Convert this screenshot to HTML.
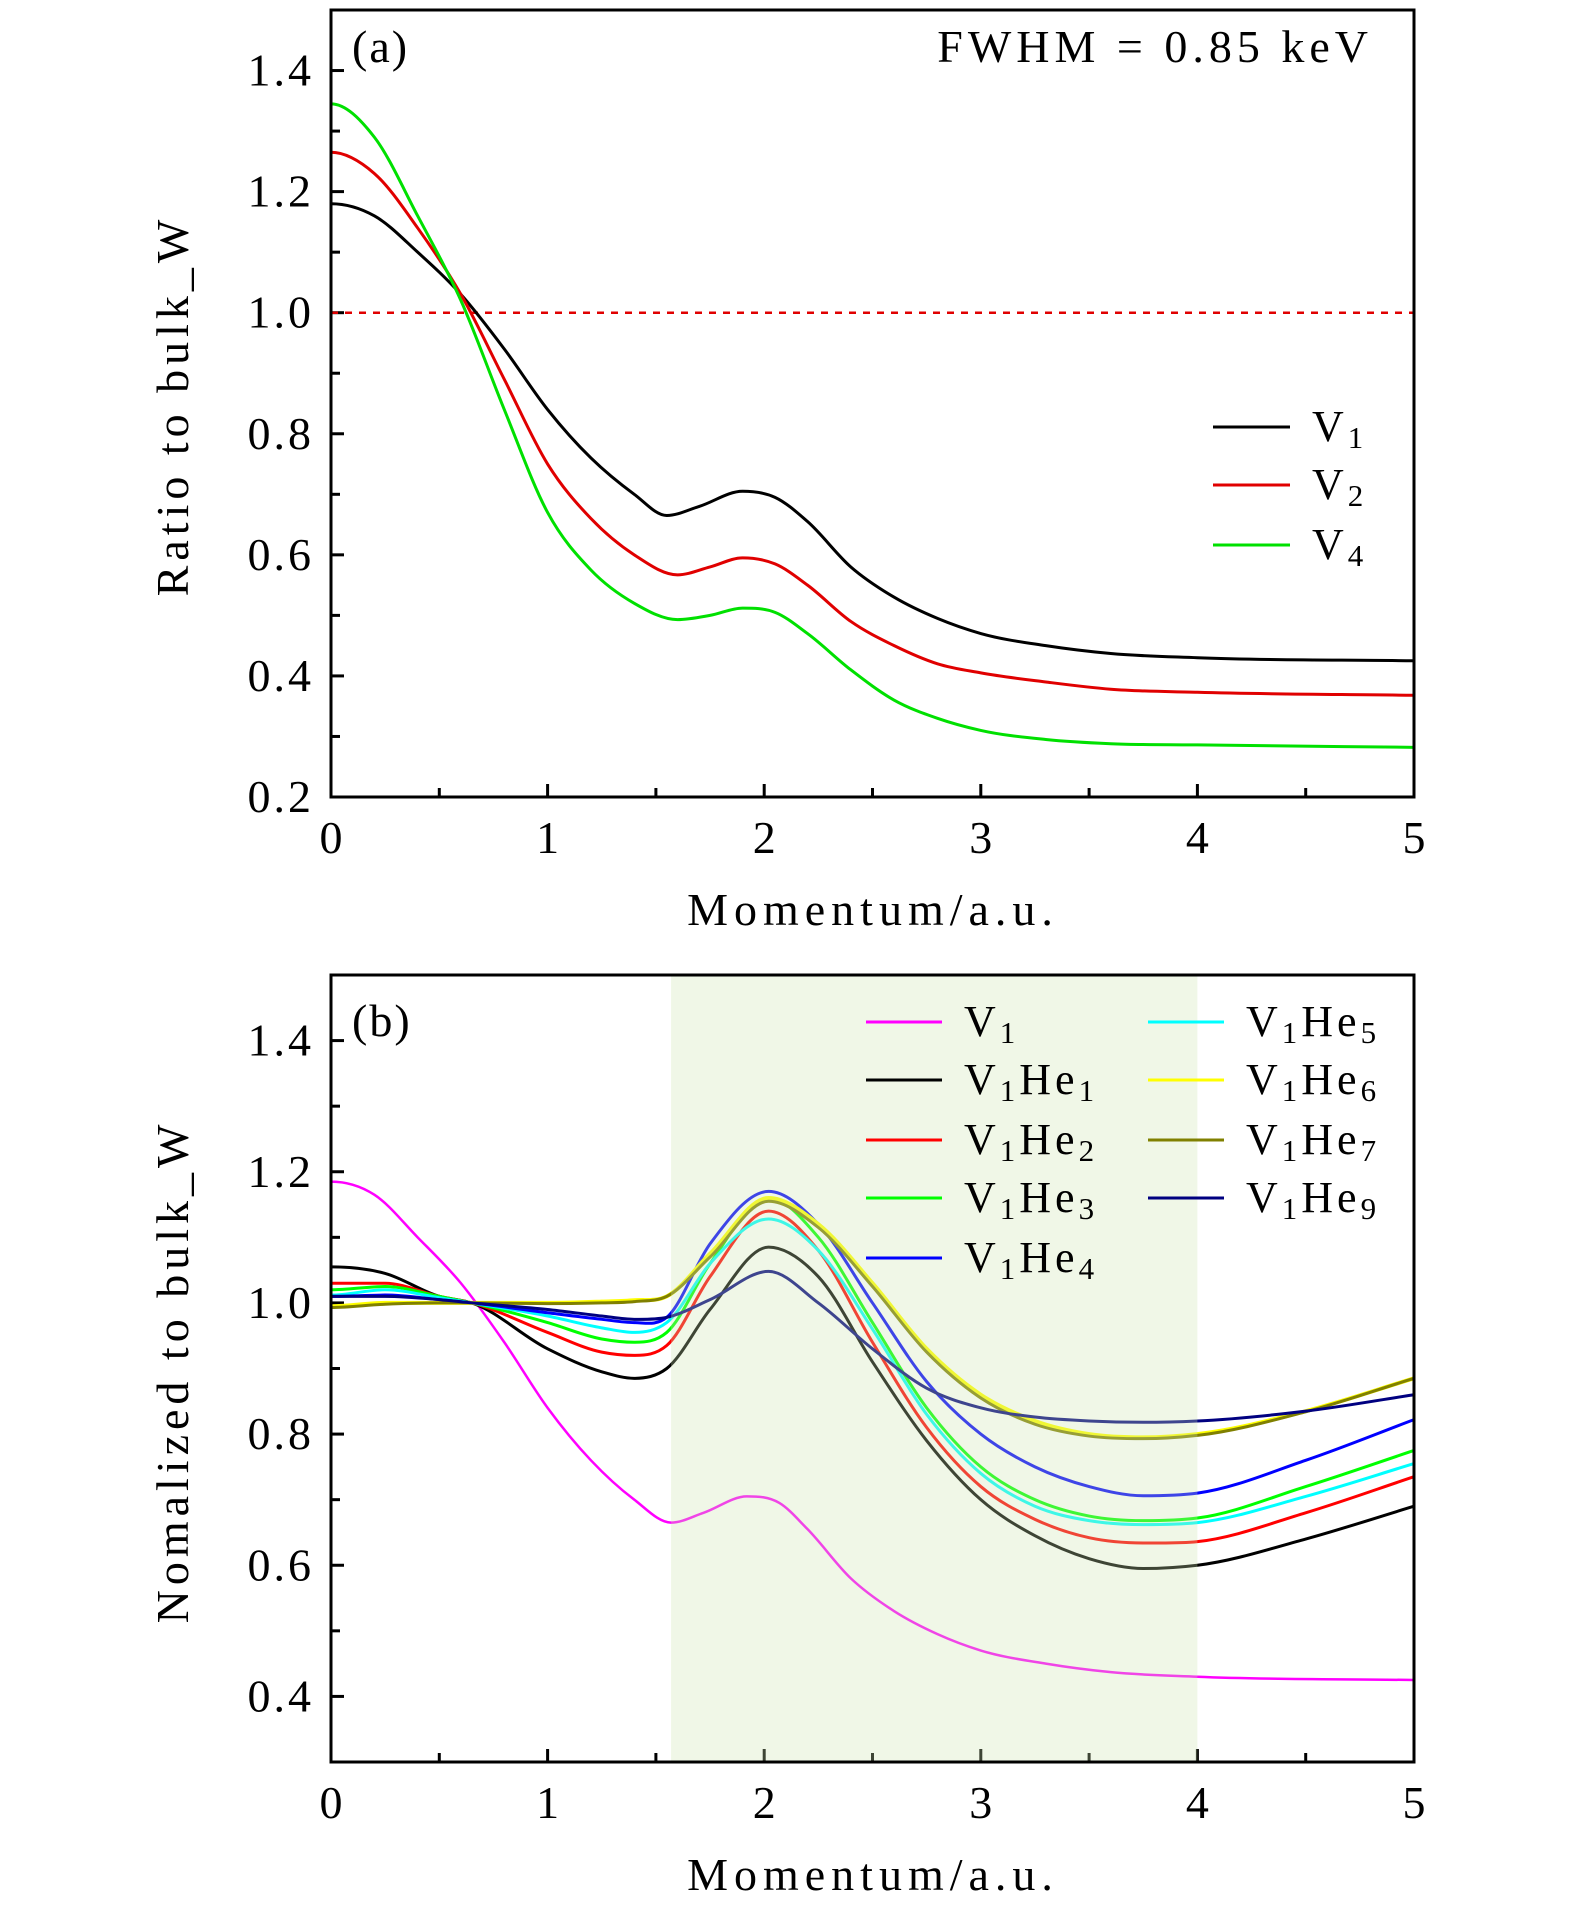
<!DOCTYPE html>
<html><head><meta charset="utf-8"><style>
html,body{margin:0;padding:0;background:#fff;}
svg{display:block;font-family:"Liberation Serif",serif;}
</style></head><body>
<svg id="chart" width="1575" height="1909" viewBox="0 0 1575 1909" xmlns="http://www.w3.org/2000/svg"></svg>
<script>
// ---------- data ----------
const aX1 = [0,0.2,0.4,0.6,0.8,1.0,1.2,1.4,1.55,1.7,1.9,2.05,2.2,2.4,2.6,2.8,3.0,3.3,3.6,4.0,5];
const aV1 = [1.18,1.16,1.1,1.03,0.94,0.84,0.76,0.7,0.665,0.68,0.705,0.695,0.655,0.58,0.53,0.495,0.47,0.45,0.437,0.43,0.425];
const aX2 = [0,0.2,0.4,0.6,0.8,1.0,1.2,1.4,1.6,1.75,1.9,2.05,2.2,2.4,2.6,2.8,3.0,3.3,3.6,4.0,5];
const aV2 = [1.265,1.23,1.14,1.03,0.89,0.75,0.66,0.6,0.567,0.58,0.595,0.585,0.55,0.49,0.45,0.42,0.405,0.39,0.378,0.373,0.368];
const aV4 = [1.345,1.29,1.16,1.02,0.84,0.67,0.575,0.52,0.493,0.5,0.512,0.505,0.47,0.41,0.36,0.33,0.31,0.295,0.288,0.286,0.282];
const yTicksA = ["0.2","0.4","0.6","0.8","1.0","1.2","1.4"];
const xTicks = ["0","1","2","3","4","5"];
const yTicksB = ["0.4","0.6","0.8","1.0","1.2","1.4"];

const bXv1 = [0,0.2,0.4,0.6,0.8,1.0,1.2,1.4,1.57,1.72,1.92,2.07,2.2,2.4,2.6,2.8,3.0,3.3,3.6,4.0,5];
const bV1 = [1.185,1.165,1.1,1.03,0.94,0.84,0.76,0.7,0.665,0.68,0.705,0.695,0.655,0.58,0.53,0.495,0.47,0.45,0.437,0.43,0.425];
const bX = [0,0.25,0.5,0.65,1,1.25,1.4,1.55,1.75,2.02,2.25,2.5,2.75,3,3.25,3.5,3.75,4,4.5,5];
const bHe1 = [1.055,1.045,1.01,1.0,0.93,0.895,0.885,0.9,0.99,1.085,1.04,0.91,0.79,0.7,0.645,0.61,0.595,0.6,0.64,0.69];
const bHe2 = [1.03,1.03,1.01,1.0,0.955,0.925,0.92,0.935,1.04,1.14,1.08,0.94,0.81,0.72,0.67,0.642,0.634,0.636,0.68,0.735];
const bHe3 = [1.02,1.025,1.01,1.0,0.97,0.945,0.94,0.955,1.06,1.16,1.1,0.97,0.84,0.75,0.7,0.675,0.668,0.672,0.72,0.775];
const bHe4 = [1.01,1.012,1.005,1.0,0.985,0.975,0.97,0.978,1.09,1.17,1.12,1.0,0.88,0.8,0.75,0.72,0.706,0.71,0.76,0.822];
const bHe5 = [1.012,1.02,1.008,1.0,0.98,0.962,0.955,0.97,1.06,1.128,1.08,0.96,0.83,0.74,0.69,0.668,0.662,0.665,0.705,0.755];
const bHe6 = [0.995,1.0,1.0,1.0,1.0,1.002,1.004,1.01,1.075,1.16,1.12,1.03,0.93,0.86,0.82,0.8,0.795,0.8,0.835,0.885];
const bHe7 = [0.993,0.998,1.0,1.0,0.999,1.0,1.002,1.01,1.07,1.155,1.115,1.025,0.925,0.855,0.815,0.797,0.793,0.798,0.834,0.885];
const bHe9 = [1.01,1.01,1.005,1.0,0.99,0.98,0.975,0.978,1.005,1.048,1.0,0.93,0.87,0.84,0.826,0.82,0.818,0.82,0.835,0.86];
const shadeRange = [1.57, 4.0];

// ---------- geometry ----------
const NS="http://www.w3.org/2000/svg";
const svg=document.getElementById('chart');
const L=331, R=1414;
const xs = v => L + (v/5)*(R-L);
const pA={top:10,bot:797,y0:0.2,y1:1.5};
const pB={top:975,bot:1762,y0:0.3,y1:1.5};
const ysA = v => pA.bot - (v-pA.y0)/(pA.y1-pA.y0)*(pA.bot-pA.top);
const ysB = v => pB.bot - (v-pB.y0)/(pB.y1-pB.y0)*(pB.bot-pB.top);

function mk(tag, attrs, parent){const e=document.createElementNS(NS,tag);for(const k in attrs)e.setAttribute(k,attrs[k]);(parent||svg).appendChild(e);return e;}
function pathD(X, Y, yf){
  const n=X.length, m=[];
  for(let i=0;i<n;i++){
    if(i===0) m.push(0);
    else if(i===n-1) m.push((Y[n-1]-Y[n-2])/(X[n-1]-X[n-2]));
    else {
      const d0=(Y[i]-Y[i-1])/(X[i]-X[i-1]), d1=(Y[i+1]-Y[i])/(X[i+1]-X[i]);
      m.push(d0*d1<=0?0:(d0*(X[i+1]-X[i])+d1*(X[i]-X[i-1]))/(X[i+1]-X[i-1]));
    }
  }
  let d='M'+xs(X[0])+','+yf(Y[0]);
  for(let i=0;i<n-1;i++){
    const h=X[i+1]-X[i];
    const c1x=X[i]+h/3, c1y=Y[i]+m[i]*h/3;
    const c2x=X[i+1]-h/3, c2y=Y[i+1]-m[i+1]*h/3;
    d+=' C'+xs(c1x)+','+yf(c1y)+' '+xs(c2x)+','+yf(c2y)+' '+xs(X[i+1])+','+yf(Y[i+1]);
  }
  return d;
}
function text(str,x,y,size,anchor,ls,parent){
  let dx=0; if(anchor==='end')dx=ls; else if(anchor==='middle')dx=ls/2;
  const t=mk('text',{x:x+dx,y:y,'font-size':size,'text-anchor':anchor||'start','fill':'#000','letter-spacing':ls},parent);t.textContent=str;return t;}
function label(parent,base,sub,sub2,x,y){
  const t=mk('text',{x:x,y:y,'font-size':44,fill:'#000','letter-spacing':4},parent);
  const a=mk('tspan',{},t);a.textContent=base;
  const b=mk('tspan',{'font-size':31,dy:7},t);b.textContent=sub;
  if(sub2!==undefined){const c=mk('tspan',{dy:-7},t);c.textContent='He';const d=mk('tspan',{'font-size':31,dy:7},t);d.textContent=sub2;}
  return t;
}
function axes(p, ysF, yMajors, yMin, yMax, name){
  const g=mk('g',{});
  
  
  for(let v=0;v<=5.001;v+=0.5){
    const major=Math.abs(v-Math.round(v))<1e-6;
    mk('line',{x1:xs(v),x2:xs(v),y1:p.bot,y2:p.bot-(major?13:9),stroke:'#000','stroke-width':3},g);
  }
  xTicks.forEach(s=>{const t=text(s,xs(+s),p.bot+56,46,'middle',0,g);
    
    });
  for(let v=yMin; v<=yMax+1e-6; v+=0.1){
    const r=Math.round(v*10)/10;
    const major=Math.round(r*10)%2===0;
    mk('line',{x1:L,x2:L+(major?13:9),y1:ysF(r),y2:ysF(r),stroke:'#000','stroke-width':3},g);
  }
  yMajors.forEach(s=>{const t=text(s,311,ysF(+s)+15,46,'end',3,g);
    
    });
  return g;
}
function series(xArr,yArr,yf,color,name,w){
  const p=mk('path',{d:pathD(xArr,yArr,yf),fill:'none',stroke:color,'stroke-width':w||3,'stroke-linejoin':'round'});
  
  
  return p;
}

// ---------- panel (a) ----------
axes(pA, ysA, yTicksA, 0.2, 1.4, 'panel-a');
const dash=mk('line',{x1:xs(0),x2:xs(5),y1:ysA(1.0),y2:ysA(1.0),stroke:'#e00000','stroke-width':2.5,'stroke-dasharray':'7,7'});


series(aX1,aV1,ysA,'#000','series-a-v1');
series(aX2,aV2,ysA,'#e00000','series-a-v2');
series(aX2,aV4,ysA,'#00e000','series-a-v4');
const frA=mk('rect',{x:L,y:pA.top,width:R-L,height:pA.bot-pA.top,fill:'none',stroke:'#000','stroke-width':3});


const tA=text('(a)',352,62,46,'start',2);


const fw=text('FWHM = 0.85 keV',1368,62,46,'end',5);


const legA=mk('g',{});


[['#000','1',427],['#e00000','2',485],['#00e000','4',545]].forEach(e=>{
  const ln=mk('line',{x1:1213,x2:1290,y1:e[2],y2:e[2],stroke:e[0],'stroke-width':3},legA);
  
  
  const t=label(legA,'V',e[1],undefined,1312,e[2]+14);
  
  
});
const xtA=text('Momentum/a.u.',870,925,46,'middle',6);


const ytA=text('Ratio to bulk_W',0,0,46,'middle',5);
ytA.setAttribute('transform','translate(188,408) rotate(-90)');



// ---------- panel (b) ----------
axes(pB, ysB, yTicksB, 0.4, 1.4, 'panel-b');
series(bXv1,bV1,ysB,'#ff00ff','series-b-v1',2.5);
series(bX,bHe1,ysB,'#000','series-b-v1he1');
series(bX,bHe2,ysB,'#ff0000','series-b-v1he2');
series(bX,bHe3,ysB,'#00ff00','series-b-v1he3');
series(bX,bHe5,ysB,'#00ffff','series-b-v1he5');
series(bX,bHe4,ysB,'#0000ff','series-b-v1he4');
series(bX,bHe6,ysB,'#ffff00','series-b-v1he6',4);
series(bX,bHe7,ysB,'#808000','series-b-v1he7');
series(bX,bHe9,ysB,'#000080','series-b-v1he9');
const sh=mk('rect',{x:xs(shadeRange[0]),y:pB.top,width:xs(shadeRange[1])-xs(shadeRange[0]),height:pB.bot-pB.top,fill:'#cde6b0','fill-opacity':0.3});


const frB=mk('rect',{x:L,y:pB.top,width:R-L,height:pB.bot-pB.top,fill:'none',stroke:'#000','stroke-width':3});


const tB=text('(b)',352,1036,46,'start',2);


const legB=mk('g',{});


const legItems=[
 ['#ff00ff','1',undefined,866,1022],['#000','1','1',866,1080],['#ff0000','1','2',866,1140],['#00ff00','1','3',866,1198],['#0000ff','1','4',866,1258],
 ['#00ffff','1','5',1148,1022],['#ffff00','1','6',1148,1080],['#808000','1','7',1148,1140],['#000080','1','9',1148,1198]];
legItems.forEach(e=>{
  const ln=mk('line',{x1:e[3],x2:e[3]+76,y1:e[4],y2:e[4],stroke:e[0],'stroke-width':3},legB);
  
  
  const t=label(legB,'V',e[1],e[2],e[3]+98,e[4]+14);
  
  
});
const xtB=text('Momentum/a.u.',870,1890,46,'middle',6);


const ytB=text('Nomalized to bulk_W',0,0,46,'middle',5);
ytB.setAttribute('transform','translate(188,1374) rotate(-90)');


</script>
</body></html>
